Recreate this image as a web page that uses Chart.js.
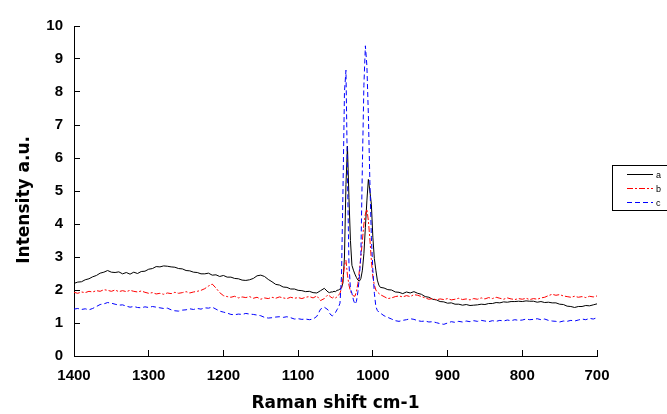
<!DOCTYPE html>
<html>
<head>
<meta charset="utf-8">
<script src="https://cdn.jsdelivr.net/npm/chart.js@4.4.0/dist/chart.umd.min.js"></script>
<style>
  body { margin: 0; background: #fff; }
  #wrap { width: 667px; height: 414px; }
</style>
</head>
<body>
<div id="wrap"><canvas id="raman" width="667" height="414"></canvas></div>
<script>
// raman shift (cm-1)
const wavenumbers = [
  1400,1395,1390,1385,1380,1375,1370,1365,1360,1355,
  1350,1345,1340,1335,1330,1325,1320,1315,1310,1305,
  1300,1295,1290,1285,1280,1275,1270,1265,1260,1255,
  1250,1245,1240,1235,1230,1225,1220,1215,1210,1205,
  1200,1195,1190,1185,1180,1175,1170,1165,1160,1155,
  1150,1145,1140,1135,1130,1125,1120,1115,1110,1105,
  1100,1095,1090,1085,1080,1075,1070,1065,1060,
  1058,1056,1054,1052,1050,1048,1046,1044,1042,1040,
  1038,1036,1034,1032,1030,1028,1026,1024,1022,1020,
  1018,1016,1014,1012,1010,1008,1006,1004,1002,1000,
  998,996,994,992,
  990,985,980,975,970,965,960,955,950,945,
  940,935,930,925,920,915,910,905,900,895,
  890,885,880,875,870,865,860,855,850,845,
  840,835,830,825,820,815,810,805,800,795,
  790,785,780,775,770,765,760,755,750,745,
  740,735,730,725,720,715,710,705,700
];

// series a (solid black)
const seriesA = [
  2.20,2.24,2.25,2.31,2.34,2.40,2.44,2.51,2.54,2.59,
  2.54,2.53,2.55,2.49,2.53,2.48,2.54,2.50,2.56,2.57,
  2.63,2.65,2.71,2.70,2.73,2.72,2.70,2.69,2.65,2.64,
  2.59,2.58,2.54,2.53,2.49,2.49,2.51,2.45,2.46,2.41,
  2.44,2.39,2.39,2.35,2.34,2.30,2.29,2.31,2.35,2.43,
  2.45,2.41,2.32,2.25,2.17,2.15,2.09,2.08,2.03,2.03,
  1.99,1.98,1.95,1.96,1.92,1.91,1.98,2.05,1.94,
  1.92,1.94,1.94,1.96,1.95,1.99,2.00,2.03,2.06,2.22,
  3.00,5.20,6.36,4.80,3.50,2.75,2.60,2.48,2.38,2.30,
  2.27,2.35,2.60,3.10,3.90,4.70,5.35,5.00,4.60,3.60,
  2.95,2.60,2.30,2.15,
  2.08,2.06,2.01,2.00,1.94,1.93,1.89,1.94,1.91,1.95,
  1.90,1.87,1.80,1.78,1.72,1.70,1.65,1.64,1.60,1.61,
  1.57,1.57,1.54,1.56,1.53,1.54,1.55,1.57,1.56,1.59,
  1.59,1.62,1.61,1.64,1.63,1.65,1.65,1.66,1.65,1.67,
  1.66,1.66,1.63,1.65,1.62,1.63,1.61,1.61,1.57,1.56,
  1.51,1.50,1.47,1.50,1.50,1.53,1.52,1.55,1.58
];

// series b (red dash-dot)
const seriesB = [
  1.93,1.90,1.94,1.92,1.96,1.94,1.98,1.96,2.01,1.99,
  1.96,2.00,1.95,1.98,1.95,1.99,1.96,1.94,1.97,1.93,
  1.90,1.92,1.88,1.90,1.87,1.91,1.89,1.93,1.90,1.92,
  1.95,1.91,1.94,1.96,1.99,2.04,2.12,2.18,2.06,1.92,
  1.83,1.80,1.78,1.81,1.76,1.79,1.77,1.80,1.75,1.78,
  1.72,1.76,1.74,1.78,1.75,1.79,1.76,1.74,1.78,1.75,
  1.77,1.74,1.78,1.80,1.76,1.82,1.68,1.74,1.86,
  1.82,1.78,1.76,1.80,1.76,1.79,1.84,1.90,2.05,2.35,
  2.75,2.90,2.45,2.15,1.96,1.88,1.82,1.81,1.95,2.20,
  2.60,3.00,3.50,4.00,4.30,4.45,4.10,3.55,2.90,2.40,
  2.15,2.00,1.93,1.90,
  1.86,1.80,1.74,1.76,1.80,1.82,1.79,1.83,1.80,1.86,
  1.84,1.80,1.76,1.72,1.74,1.70,1.73,1.71,1.74,1.70,
  1.72,1.75,1.71,1.73,1.70,1.74,1.72,1.76,1.73,1.77,
  1.74,1.78,1.75,1.72,1.76,1.73,1.71,1.74,1.72,1.75,
  1.71,1.74,1.72,1.76,1.78,1.83,1.87,1.84,1.86,1.82,
  1.80,1.78,1.81,1.78,1.80,1.77,1.81,1.79,1.82
];

// series c (blue dashed)
const seriesC = [
  1.42,1.44,1.41,1.43,1.40,1.44,1.50,1.56,1.58,1.62,
  1.60,1.57,1.54,1.55,1.51,1.48,1.50,1.47,1.46,1.49,
  1.47,1.50,1.48,1.46,1.44,1.45,1.40,1.37,1.36,1.39,
  1.40,1.43,1.41,1.44,1.42,1.46,1.45,1.48,1.42,1.36,
  1.33,1.30,1.26,1.25,1.27,1.26,1.29,1.27,1.26,1.24,
  1.22,1.17,1.15,1.16,1.18,1.19,1.17,1.19,1.16,1.12,
  1.13,1.11,1.12,1.10,1.12,1.20,1.42,1.48,1.40,
  1.30,1.24,1.22,1.26,1.32,1.40,1.48,1.60,2.40,5.00,
  8.00,8.66,5.50,2.80,2.03,1.90,1.70,1.57,1.65,1.95,
  2.40,3.10,5.80,8.20,9.40,8.80,7.30,5.30,3.60,2.60,
  1.90,1.50,1.38,1.33,
  1.30,1.22,1.17,1.12,1.07,1.05,1.08,1.10,1.13,1.11,
  1.07,1.05,1.06,1.03,1.04,1.01,0.98,0.96,1.00,1.04,
  1.02,1.05,1.03,1.06,1.04,1.07,1.05,1.08,1.06,1.04,
  1.07,1.05,1.08,1.06,1.09,1.07,1.10,1.08,1.09,1.12,
  1.10,1.11,1.13,1.10,1.12,1.08,1.06,1.05,1.03,1.06,
  1.05,1.08,1.06,1.09,1.12,1.10,1.14,1.12,1.16
];

const seriesLabels = ['a', 'b', 'c'];

function toPoints(values) {
  return wavenumbers.map((w, i) => ({ x: w, y: values[i] }));
}

const FONT = '"Liberation Sans", Arial, sans-serif';
const TITLE_FONT = '"DejaVu Sans", sans-serif';

// boxed legend at the right edge, like the spreadsheet one
const boxLegend = {
  id: 'boxLegend',
  afterDraw(chart) {
    const ctx = chart.ctx;
    ctx.save();
    ctx.strokeStyle = '#000';
    ctx.lineWidth = 1;
    ctx.setLineDash([]);
    ctx.strokeRect(612.5, 165.5, 70, 45);
    const rows = [174.5, 188.5, 202.5];
    chart.data.datasets.forEach((ds, i) => {
      ctx.beginPath();
      ctx.strokeStyle = ds.borderColor;
      ctx.setLineDash(ds.borderDash || []);
      ctx.moveTo(627, rows[i]);
      ctx.lineTo(653, rows[i]);
      ctx.stroke();
      ctx.setLineDash([]);
      ctx.fillStyle = '#000';
      ctx.font = '9px ' + FONT;
      ctx.textBaseline = 'middle';
      ctx.fillText(ds.label, 656, rows[i] + 1);
    });
    ctx.restore();
  }
};

new Chart(document.getElementById('raman'), {
  type: 'line',
  data: {
    datasets: [
      { label: seriesLabels[0], data: toPoints(seriesA), borderColor: '#000000', borderWidth: 1, order: 2 },
      { label: seriesLabels[1], data: toPoints(seriesB), borderColor: '#ff0000', borderWidth: 1, borderDash: [6, 2, 2, 2], order: 1 },
      { label: seriesLabels[2], data: toPoints(seriesC), borderColor: '#0000ff', borderWidth: 1, borderDash: [5, 3], order: 0 }
    ]
  },
  options: {
    responsive: false,
    animation: false,
    events: [],
    elements: { point: { radius: 0 }, line: { tension: 0 } },
    layout: { padding: { top: 19, right: 70, left: 0, bottom: 0 } },
    plugins: { legend: { display: false }, tooltip: { enabled: false } },
    scales: {
      x: {
        type: 'linear',
        reverse: true,
        min: 700,
        max: 1400,
        afterFit: s => { s.height = 58; },
        ticks: { stepSize: 100, callback: v => String(v), color: '#000', padding: 17, font: { family: FONT, size: 15, weight: 'bold' } },
        grid: { drawOnChartArea: false, tickLength: -6, color: '#000' },
        border: { color: '#000', width: 1 },
        title: { display: true, text: 'Raman shift cm-1', color: '#000', padding: 0, font: { family: TITLE_FONT, size: 17, weight: 'bold' } }
      },
      y: {
        min: 0,
        max: 10,
        afterFit: s => { s.width = 74; },
        ticks: { stepSize: 1, color: '#000', padding: 17, font: { family: FONT, size: 15, weight: 'bold' } },
        grid: { drawOnChartArea: false, tickLength: -6, color: '#000' },
        border: { color: '#000', width: 1 },
        title: { display: true, text: 'Intensity a.u.   ', color: '#000', padding: { top: 14, bottom: 0 }, font: { family: TITLE_FONT, size: 17, weight: 'bold' } }
      }
    }
  },
  plugins: [boxLegend]
});
</script>
</body>
</html>
